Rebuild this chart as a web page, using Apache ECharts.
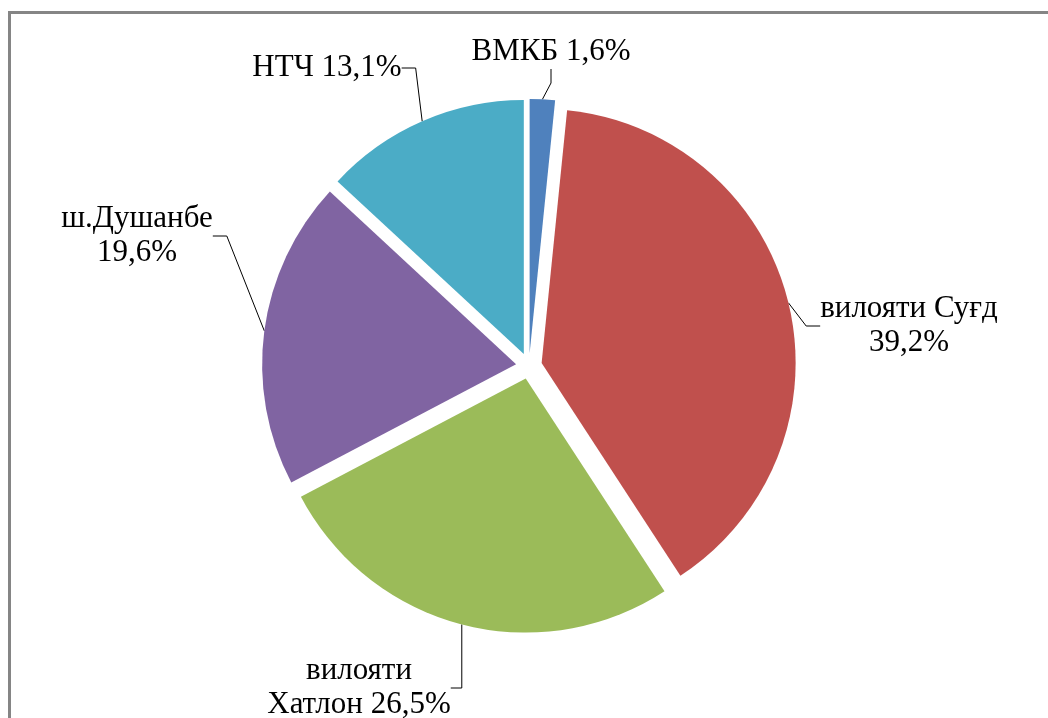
<!DOCTYPE html>
<html>
<head>
<meta charset="utf-8">
<script src="https://cdn.jsdelivr.net/npm/echarts@6/dist/echarts.min.js"></script>
<style>
  html, body { margin: 0; padding: 0; background: #fff; }
  #chart { width: 1048px; height: 718px; }
</style>
</head>
<body>
<div id="chart"></div>
<script>
// данные диаграммы (по часовой стрелке от верха)
let names  = ['ВМКБ', 'вилояти Суғд', 'вилояти\nХатлон', 'ш.Душанбе', 'НТЧ'];
let values = [1.6, 39.2, 26.5, 19.6, 13.1];
let seps   = [' ', '\n', ' ', '\n', ' '];   // что стоит между названием и процентом
let colors = ['#4F81BD', '#C0504D', '#9BBB59', '#8064A2', '#4BACC6'];

// где стоят подписи (центр блока текста), в том же порядке что names
let labelPos = [
    {x: 551, y: 52},
    {x: 909, y: 326},
    {x: 359, y: 688},
    {x: 137, y: 236},
    {x: 327, y: 68}
];

let cx = 529, cy = 366;   // центр круга
let explode = 13;         // на сколько выдвинут каждый сектор

let total = values.reduce(function (a, b) { return a + b; }, 0);

// каждый сектор рисуется своей серией, центр которой сдвинут по середине сектора
let seriesList = [];
let acc = 0;
values.forEach(function (v, k) {
    let mid = (acc + v / 2) / total * 2 * Math.PI;
    acc += v;
    seriesList.push({
        name: names[k],
        type: 'pie',
        center: [cx + explode * Math.sin(mid), cy - explode * Math.cos(mid)],
        radius: 254,
        startAngle: 90,
        clockwise: true,
        silent: true,
        label: {
            color: '#000',
            fontFamily: 'Liberation Serif',
            fontSize: 31,
            lineHeight: 34,
            align: 'center',
            formatter: function (p) {
                return names[p.dataIndex] + seps[p.dataIndex] + String(values[p.dataIndex]).replace('.', ',') + '%';
            }
        },
        labelLine: {
            length: 14,
            length2: 14,
            lineStyle: { color: '#000', width: 1 }
        },
        labelLayout: function (params) {
            let pos = labelPos[params.dataIndex];
            return { x: pos.x, y: pos.y, align: 'center', verticalAlign: 'middle' };
        },
        data: values.map(function (val, i) {
            let mine = (i === k);
            return {
                value: val,
                name: names[i],
                itemStyle: { color: mine ? colors[i] : 'rgba(0,0,0,0)' },
                label: { show: mine },
                labelLine: { show: mine }
            };
        })
    });
});

let chart = echarts.init(document.getElementById('chart'));

chart.setOption({
    animation: false,
    graphic: [
        {   // рамка области диаграммы
            type: 'polyline',
            shape: { points: [[9.5, 718], [9.5, 12.5], [1048, 12.5]] },
            style: { stroke: '#858585', lineWidth: 3, fill: null }
        }
    ],
    series: seriesList
});
</script>
</body>
</html>
